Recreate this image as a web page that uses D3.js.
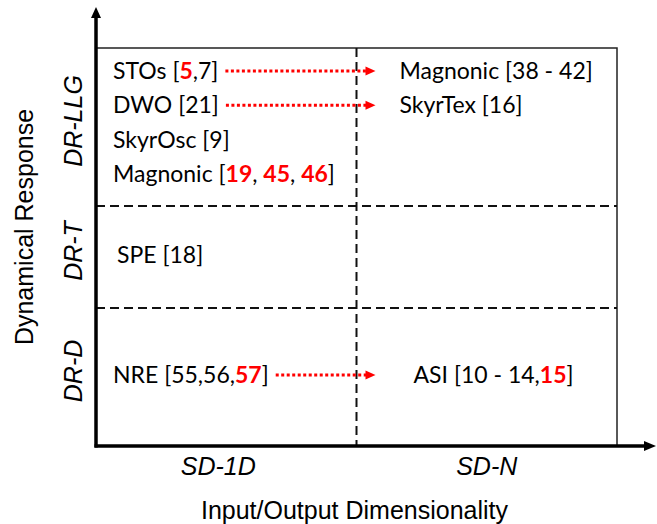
<!DOCTYPE html>
<html>
<head>
<meta charset="utf-8">
<script src="https://cdn.jsdelivr.net/npm/d3@7"></script>
<style>
  body { margin: 0; background: #fff; }
</style>
</head>
<body>
<svg class="matrixChart" width="657" height="524"></svg>
<script>
// grid categories
const responseRows = ["DR-LLG", "DR-T", "DR-D"];
const dimensionCols = ["SD-1D", "SD-N"];
const xTitle = "Input/Output Dimensionality";
const yTitle = "Dynamical Response";

// cell entries, *..* marks a red bold reference
const entryNames = ["STOs [*5*,7]", "DWO [21]", "SkyrOsc [9]", "Magnonic [*19*, *45*, *46*]",
                    "Magnonic [38 - 42]", "SkyrTex [16]", "SPE [18]", "NRE [55,56,*57*]", "ASI [10 - 14,*15*]"];
const entryRows = ["DR-LLG", "DR-LLG", "DR-LLG", "DR-LLG", "DR-LLG", "DR-LLG", "DR-T", "DR-D", "DR-D"];
const entryCols = ["SD-1D", "SD-1D", "SD-1D", "SD-1D", "SD-N", "SD-N", "SD-1D", "SD-1D", "SD-N"];
const entrySlots = [0, 1, 2, 3, 0, 1, 0, 0, 0];

// red dotted arrows, indexes into the entries
const arrowFrom = [0, 1, 7];
const arrowTo = [4, 5, 8];

class MatrixChart {

    constructor(){
        this.frame = {left: 96, top: 48, right: 617, bottom: 446};
        // row split of the frame (fraction of height), rows are not equal
        this.rowEdges = [0, 0.397, 0.653, 1];
        // left padding of the text in each cell
        this.cellPad = {"DR-LLG|SD-1D": 17, "DR-LLG|SD-N": 43, "DR-T|SD-1D": 21, "DR-D|SD-1D": 17, "DR-D|SD-N": 57};
        this.cellFont = "Lato, 'Open Sans', sans-serif";
        this.labelFont = "'Liberation Sans', Arial, sans-serif";
    }

    draw(){
        const svg = d3.select(".matrixChart");
        const f = this.frame;

        const x = d3.scaleBand().domain(dimensionCols).range([f.left, f.right]);
        const yFrac = d3.scaleLinear().domain([0, 1]).range([f.top, f.bottom]);
        const rowTop = r => yFrac(this.rowEdges[responseRows.indexOf(r)]);
        const rowBottom = r => yFrac(this.rowEdges[responseRows.indexOf(r) + 1]);

        // frame
        svg.append("rect")
            .attr("x", f.left).attr("y", f.top)
            .attr("width", f.right - f.left).attr("height", f.bottom - f.top)
            .attr("fill", "none").attr("stroke", "#222").attr("stroke-width", 1.5);

        // dashed dividers
        svg.append("line")
            .attr("x1", x("SD-N")).attr("x2", x("SD-N"))
            .attr("y1", f.top).attr("y2", f.bottom)
            .attr("stroke", "#111").attr("stroke-width", 2).attr("stroke-dasharray", "9,5");
        svg.selectAll(".rowDiv").data(responseRows.slice(1)).join("line")
            .attr("class", "rowDiv")
            .attr("x1", f.left).attr("x2", f.right)
            .attr("y1", d => rowTop(d)).attr("y2", d => rowTop(d))
            .attr("stroke", "#111").attr("stroke-width", 2).attr("stroke-dasharray", "9,5");

        // axes with arrow heads
        svg.append("line").attr("x1", f.left).attr("x2", f.left).attr("y1", f.bottom + 1.5).attr("y2", 16)
            .attr("stroke", "#000").attr("stroke-width", 3.5);
        svg.append("path").attr("d", `M${f.left},7L${f.left - 5},18L${f.left + 5},18Z`).attr("fill", "#000");
        svg.append("line").attr("x1", f.left - 1.5).attr("x2", 645).attr("y1", f.bottom).attr("y2", f.bottom)
            .attr("stroke", "#000").attr("stroke-width", 3.5);
        svg.append("path").attr("d", `M656,${f.bottom}L644,${f.bottom - 5}L644,${f.bottom + 5}Z`).attr("fill", "#000");

        // column labels
        svg.selectAll(".colLabel").data(dimensionCols).join("text")
            .attr("class", "colLabel")
            .attr("x", d => x(d) + x.bandwidth() / 2 - (d === "SD-1D" ? 8 : 0))
            .attr("y", 475)
            .attr("text-anchor", "middle")
            .style("font", `italic 25px ${this.labelFont}`)
            .text(d => d);

        // row labels (rotated)
        svg.selectAll(".rowLabel").data(responseRows).join("text")
            .attr("class", "rowLabel")
            .attr("transform", d => `translate(82, ${(rowTop(d) + rowBottom(d)) / 2 - 6}) rotate(-90)`)
            .attr("text-anchor", "middle")
            .style("font", `italic 25px ${this.labelFont}`)
            .text(d => d);

        svg.append("text")
            .attr("x", (f.left + f.right) / 2 - 2).attr("y", 519)
            .attr("text-anchor", "middle")
            .style("font", `25px ${this.labelFont}`)
            .text(xTitle);
        svg.append("text")
            .attr("transform", `translate(33, 227) rotate(-90)`)
            .attr("text-anchor", "middle")
            .style("font", `25px ${this.labelFont}`)
            .text(yTitle);

        // entries
        const entries = entryNames.map((name, i) => {
            const r = entryRows[i], c = entryCols[i];
            const single = entryRows.filter((rr, j) => rr === r && entryCols[j] === c).length === 1;
            const base = single ? (rowTop(r) + rowBottom(r)) / 2 + 6 : rowTop(r) + 31 + entrySlots[i] * 34.3;
            return {name: name, x: x(c) + this.cellPad[r + "|" + c], y: base};
        });

        const that = this;
        const texts = svg.selectAll(".entry").data(entries).join("text")
            .attr("class", "entry")
            .attr("x", d => d.x).attr("y", d => d.y)
            .style("font", `23px ${this.cellFont}`)
            .attr("fill", "#000")
            .each(function(d){ that.addRichText(d3.select(this), d.name); });

        texts.each(function(d){ d.width = this.getComputedTextLength(); });

        // red dotted arrows
        const tipX = x("SD-N") + 19;
        const arrows = arrowFrom.map((a, i) => ({
            x1: entries[a].x + entries[a].width + 7,
            x2: tipX,
            y: entries[a].y - 8
        }));
        svg.selectAll(".arrowLine").data(arrows).join("line")
            .attr("class", "arrowLine")
            .attr("x1", d => d.x1).attr("x2", d => d.x2 - 8)
            .attr("y1", d => d.y).attr("y2", d => d.y)
            .attr("stroke", "#ff0000").attr("stroke-width", 3).attr("stroke-dasharray", "3,2.5");
        svg.selectAll(".arrowHead").data(arrows).join("path")
            .attr("class", "arrowHead")
            .attr("d", d => `M${d.x2},${d.y}L${d.x2 - 10},${d.y - 4.5}L${d.x2 - 10},${d.y + 4.5}Z`)
            .attr("fill", "#ff0000");
    }

    // split on * and colour the marked references
    addRichText(sel, str){
        str.split("*").forEach((part, i) => {
            if(!part) return;
            const t = sel.append("tspan").text(part);
            if(i % 2 === 1){
                t.attr("fill", "#ff0000").attr("font-weight", "bold");
            }
        });
    }
}

new MatrixChart().draw();
</script>
</body>
</html>
